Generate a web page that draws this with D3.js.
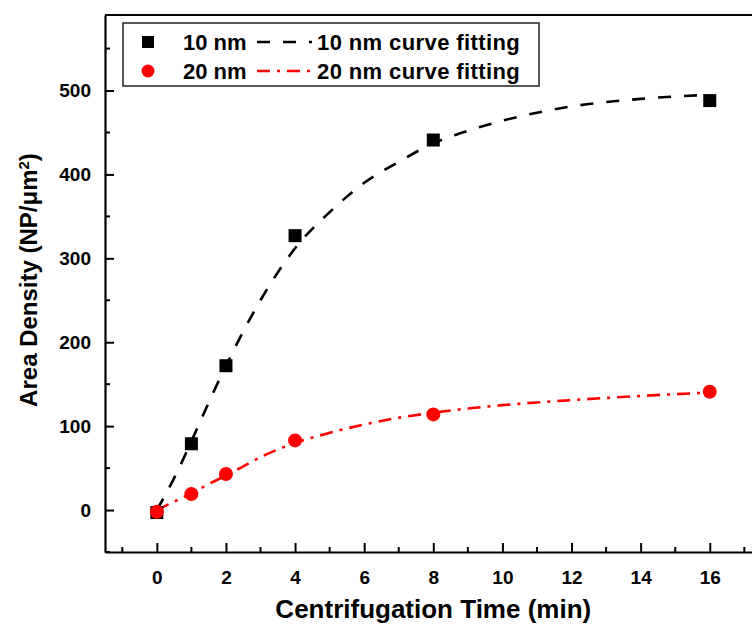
<!DOCTYPE html>
<html>
<head>
  <meta charset="UTF-8">
  <style>
    body { margin: 0; background: white; overflow: hidden; }
    svg { display: block; }
    text { font-family: "Liberation Sans", Arial, sans-serif; font-weight: bold; fill: black; }
  </style>
</head>
<body>
<svg></svg>
<script src="https://d3js.org/d3.v7.min.js"></script>
<script>

// measured points
let times = [0, 1, 2, 4, 8, 16];
let density10 = [-3, 79, 172, 327, 441, 488];
let density20 = [-2, 19, 43, 83, 114, 141];

// fitted curves
let fitTimes = [0, 0.5, 1, 1.5, 2, 3, 4, 5, 6, 7, 8, 9, 10, 12, 14, 16];
let fit10 = [0, 38, 82, 128, 172, 250, 312, 355, 390, 415, 437, 452, 464, 481, 490, 495];
let fit20 = [0, 10, 20, 31, 41, 63, 80, 92, 102, 110, 116, 121, 125, 131, 136, 140];

let xTicks = [0, 2, 4, 6, 8, 10, 12, 14, 16];
let xMinor = [-1, 1, 3, 5, 7, 9, 11, 13, 15, 17];
let yTicks = [0, 100, 200, 300, 400, 500];
let yMinor = [-50, 50, 150, 250, 350, 450, 550];

let width = 752, height = 624;

let svg = d3.select("svg")
    .attr("width", width)
    .attr("height", height);

let x = d3.scaleLinear().domain([-1.5, 17.5]).range([105, 761.6]);
let y = d3.scaleLinear().domain([-50, 590]).range([552, 15]);

// frame top (right side falls outside the picture)
svg.append("line")
    .attr("x1", x(-1.5)).attr("x2", width)
    .attr("y1", y(590)).attr("y2", y(590))
    .attr("stroke", "black")
    .attr("stroke-width", 2);

// x axis
svg.append("g")
    .attr("transform", "translate(0," + y(-50) + ")")
    .call(d3.axisBottom(x).tickValues(xTicks).tickSize(-9).tickSizeOuter(0).tickPadding(18.5));

// y axis
svg.append("g")
    .attr("transform", "translate(" + x(-1.5) + ",0)")
    .call(d3.axisLeft(y).tickValues(yTicks).tickSize(-9).tickSizeOuter(0).tickPadding(14));

svg.selectAll(".domain").attr("stroke-width", 2.2);
svg.selectAll(".tick line").attr("stroke-width", 2);
svg.selectAll(".tick text")
    .style("font-size", "19px")
    .style("font-family", "'Liberation Sans', Arial, sans-serif")
    .style("font-weight", "bold");

// minor ticks
svg.append("g")
    .selectAll("line")
    .data(xMinor)
    .enter()
    .append("line")
    .attr("x1", d => x(d)).attr("x2", d => x(d))
    .attr("y1", y(-50)).attr("y2", y(-50) - 5)
    .attr("stroke", "black").attr("stroke-width", 2);
svg.append("g")
    .selectAll("line")
    .data(yMinor)
    .enter()
    .append("line")
    .attr("x1", x(-1.5)).attr("x2", x(-1.5) + 5)
    .attr("y1", d => y(d)).attr("y2", d => y(d))
    .attr("stroke", "black").attr("stroke-width", 2);

// axis titles
svg.append("text")
    .attr("x", x(8))
    .attr("y", 618)
    .attr("text-anchor", "middle")
    .style("font-size", "26px")
    .text("Centrifugation Time (min)");

let ytitle = svg.append("text")
    .attr("transform", "translate(37,280) rotate(-90)")
    .attr("text-anchor", "middle")
    .style("font-size", "24px");
ytitle.append("tspan").text("Area Density (NP/\u03bcm");
ytitle.append("tspan").attr("baseline-shift", "super").style("font-size", "15px").text("2");
ytitle.append("tspan").text(")");

// fitted curves
let line = d3.line()
    .x(d => x(d[0]))
    .y(d => y(d[1]))
    .curve(d3.curveMonotoneX);

svg.append("path")
    .datum(fitTimes.map((t, i) => [t, fit10[i]]))
    .attr("d", line)
    .attr("fill", "none")
    .attr("stroke", "black")
    .attr("stroke-width", 2.6)
    .attr("stroke-dasharray", "13,13");

svg.append("path")
    .datum(fitTimes.map((t, i) => [t, fit20[i]]))
    .attr("d", line)
    .attr("fill", "none")
    .attr("stroke", "red")
    .attr("stroke-width", 2.6)
    .attr("stroke-dasharray", "13,7,3,7");

// markers
svg.append("g")
    .selectAll("rect")
    .data(times.map((t, i) => [t, density10[i]]))
    .enter()
    .append("rect")
    .attr("x", d => x(d[0]) - 6.5)
    .attr("y", d => y(d[1]) - 6.5)
    .attr("width", 13)
    .attr("height", 13)
    .attr("fill", "black");

svg.append("g")
    .selectAll("circle")
    .data(times.map((t, i) => [t, density20[i]]))
    .enter()
    .append("circle")
    .attr("cx", d => x(d[0]))
    .attr("cy", d => y(d[1]))
    .attr("r", 7)
    .attr("fill", "red");

// legend
let legend = svg.append("g");
legend.append("rect")
    .attr("x", 123).attr("y", 23)
    .attr("width", 416).attr("height", 63)
    .attr("fill", "white")
    .attr("stroke", "#222")
    .attr("stroke-width", 1.5);

legend.append("rect")
    .attr("x", 142).attr("y", 36).attr("width", 12).attr("height", 12)
    .attr("fill", "black");
legend.append("circle")
    .attr("cx", 148).attr("cy", 71).attr("r", 6.5)
    .attr("fill", "red");

legend.append("line")
    .attr("x1", 257).attr("x2", 312).attr("y1", 42).attr("y2", 42)
    .attr("stroke", "black").attr("stroke-width", 2.6)
    .attr("stroke-dasharray", "13,13");
legend.append("line")
    .attr("x1", 257).attr("x2", 312).attr("y1", 71).attr("y2", 71)
    .attr("stroke", "red").attr("stroke-width", 2.6)
    .attr("stroke-dasharray", "13,7,3,7");

let legendRows = [["10 nm", "10 nm curve fitting", 42], ["20 nm", "20 nm curve fitting", 71]];
legendRows.forEach(r => {
  legend.append("text").attr("x", 183).attr("y", r[2] + 8).style("font-size", "22px").text(r[0]);
  legend.append("text").attr("x", 317).attr("y", r[2] + 8).style("font-size", "22px")
      .style("letter-spacing", "0.4px").text(r[1]);
});

</script>
</body>
</html>
